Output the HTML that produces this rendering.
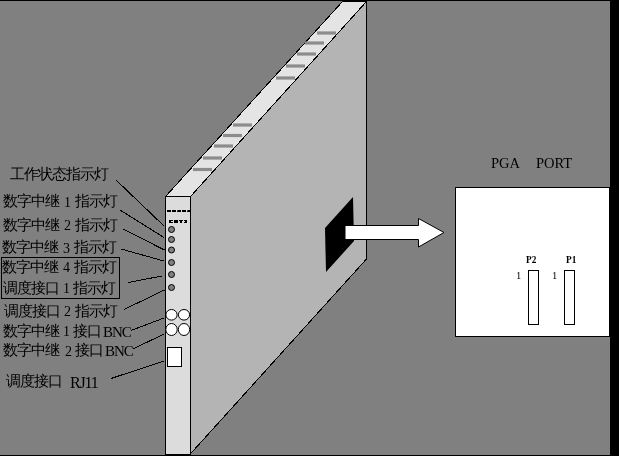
<!DOCTYPE html>
<html><head><meta charset="utf-8">
<style>
html,body{margin:0;padding:0;width:619px;height:456px;overflow:hidden;background:#808080}
svg{position:absolute;left:0;top:0}
.c,.l,.s{position:absolute;will-change:transform;font-family:"Liberation Serif",serif;color:#000;white-space:nowrap;line-height:16px}
.c{font-size:15px;letter-spacing:-1px}
.l{font-size:14px;letter-spacing:-1px}
.s{font-size:14px}
.r{position:absolute;will-change:transform;font-family:"Liberation Serif",serif;color:#000;white-space:nowrap;line-height:16px;font-size:16px;letter-spacing:-1.2px}
.b{position:absolute;will-change:transform;font-family:"Liberation Serif",serif;color:#000;white-space:nowrap;line-height:16px;font-size:15px;letter-spacing:-1px}
</style></head><body>
<svg id="c" width="619" height="456" viewBox="0 0 619 456">
<rect x="0" y="0" width="619" height="456" fill="#808080"/>
<!-- side face -->
<polygon shape-rendering="crispEdges" points="190.5,196.5 366.5,1.5 366.5,259 190.5,453.8" fill="#b4b4b4" stroke="#000" stroke-width="1"/>
<!-- top face -->
<polygon shape-rendering="crispEdges" points="165.5,196.5 342.5,1.5 366.5,1.5 190.5,196.5" fill="#e4e4e4" stroke="#000" stroke-width="1"/>
<!-- slots -->
<defs><filter id="bl" x="-20%" y="-200%" width="140%" height="500%"><feGaussianBlur stdDeviation="0.75"/></filter></defs>
<g stroke="#8c8c8c" stroke-width="3.2" fill="none" filter="url(#bl)">
<line x1="317" y1="33" x2="336" y2="33"/>
<line x1="305" y1="43" x2="324" y2="43"/>
<line x1="297" y1="54" x2="316" y2="54"/>
<line x1="286" y1="66" x2="305" y2="66"/>
<line x1="276" y1="78" x2="295" y2="78"/>
<line x1="233" y1="125" x2="252" y2="125"/>
<line x1="223" y1="135.5" x2="242" y2="135.5"/>
<line x1="214" y1="146" x2="233" y2="146"/>
<line x1="203" y1="158" x2="222" y2="158"/>
<line x1="193" y1="169.5" x2="212" y2="169.5"/>
</g>
<!-- front face -->
<rect x="165.5" y="196.5" width="25" height="258" fill="#dcdcdc" stroke="#000" stroke-width="1"/>
<!-- dashes -->
<g fill="#000">
<rect x="167" y="210" width="4" height="2"/>
<rect x="172" y="210" width="4" height="2"/>
<polygon points="177.5,210 181,210 181,212 177,212"/>
<rect x="182" y="210" width="4" height="2"/>
<polygon points="187.5,210 190,210 190,212 187,212"/>
<path d="M169,220h4v1h-2v1h2v1h-4z"/>
<path d="M174,220h4v3h-4z"/>
<path d="M179,220h4v1h-1v2h-2v-2h-1z"/>
<path d="M184,220h3v3h-3v-1h1v-1h-1z"/>
</g>
<!-- LEDs -->
<g fill="#808080" stroke="#000" stroke-width="1">
<circle cx="171.5" cy="229.5" r="3.0"/>
<circle cx="171.5" cy="239.5" r="3.0"/>
<circle cx="171.5" cy="250" r="3.0"/>
<circle cx="171.5" cy="262.5" r="3.0"/>
<circle cx="171.5" cy="274.5" r="3.0"/>
<circle cx="171.5" cy="287.5" r="3.0"/>
</g>
<!-- BNC -->
<g fill="#fff" stroke="#000" stroke-width="1">
<ellipse cx="171.5" cy="314.8" rx="5.6" ry="5.3"/>
<ellipse cx="184" cy="314.8" rx="5.6" ry="5.3"/>
<ellipse cx="171.5" cy="329.5" rx="5.7" ry="6"/>
<ellipse cx="184" cy="329.5" rx="5.7" ry="6"/>
<rect x="167.5" y="347.5" width="14" height="19"/>
</g>
<!-- connector -->
<polygon points="325,228 353,197 354,241 326,272" fill="#000"/>
<!-- arrow -->
<polygon points="345,225.5 418.5,225.5 418.5,218.5 444,232.5 418.5,247 418.5,239.5 345,239.5" fill="#fff" stroke="#000" stroke-width="1"/>
<!-- leader lines -->
<g stroke="#000" stroke-width="1" fill="none" shape-rendering="crispEdges">
<line x1="116" y1="180" x2="164" y2="226"/>
<line x1="120" y1="210" x2="164" y2="237.5"/>
<line x1="123" y1="229" x2="164.5" y2="250"/>
<line x1="121" y1="249" x2="164" y2="261"/>
<line x1="128" y1="282.5" x2="162" y2="276"/>
<line x1="124" y1="309.5" x2="164.5" y2="290"/>
<line x1="131" y1="330.5" x2="164" y2="318"/>
<line x1="133" y1="349" x2="164" y2="334"/>
<line x1="111" y1="378.5" x2="164" y2="361"/>
</g>
<!-- label box -->
<rect x="1.5" y="257.5" width="118" height="41" fill="none" stroke="#000" stroke-width="1"/>
<!-- PGA box -->
<rect x="455.5" y="187.5" width="154" height="149" fill="#fff" stroke="#000" stroke-width="1"/>
<rect x="528.5" y="270.5" width="10" height="54" fill="#fff" stroke="#000" stroke-width="1"/>
<rect x="564.5" y="270.5" width="10" height="54" fill="#fff" stroke="#000" stroke-width="1"/>
<!-- borders -->
<rect x="0" y="0" width="619" height="1" fill="#000"/>
<rect x="610" y="0" width="9" height="456" fill="#000"/>
<rect x="0" y="455" width="619" height="1" fill="#000"/>
</svg>
<div class="c" style="left:10px;top:166px;">工作状态指示灯</div>
<div class="c" style="left:3px;top:193px;">数字中继</div>
<div class="l" style="left:64px;top:195px;">1</div>
<div class="c" style="left:75px;top:193px;">指示灯</div>
<div class="c" style="left:3px;top:217px;">数字中继</div>
<div class="l" style="left:64px;top:218px;">2</div>
<div class="c" style="left:75px;top:217px;">指示灯</div>
<div class="c" style="left:2px;top:239px;">数字中继</div>
<div class="l" style="left:63px;top:241px;">3</div>
<div class="c" style="left:74px;top:239px;">指示灯</div>
<div class="c" style="left:2px;top:259px;">数字中继</div>
<div class="l" style="left:63px;top:260px;">4</div>
<div class="c" style="left:74px;top:259px;">指示灯</div>
<div class="c" style="left:3px;top:280px;">调度接口</div>
<div class="l" style="left:63px;top:281px;">1</div>
<div class="c" style="left:73px;top:280px;">指示灯</div>
<div class="c" style="left:4px;top:303px;">调度接口</div>
<div class="l" style="left:64px;top:304px;">2</div>
<div class="c" style="left:75px;top:303px;">指示灯</div>
<div class="c" style="left:3px;top:323px;">数字中继</div>
<div class="l" style="left:63px;top:324px;">1</div>
<div class="c" style="left:73px;top:323px;">接口</div>
<div class="b" style="left:103px;top:324px;">BNC</div>
<div class="c" style="left:3px;top:342px;">数字中继</div>
<div class="l" style="left:64.5px;top:344px;">2</div>
<div class="c" style="left:75px;top:342px;">接口</div>
<div class="b" style="left:105px;top:343px;">BNC</div>
<div class="c" style="left:6px;top:373px;">调度接口</div>
<div class="r" style="left:70px;top:375px;">RJ11</div>
<div class="s" style="left:491px;top:155px;font-size:14.5px">PGA</div>
<div class="s" style="left:536px;top:155px;font-size:14.5px">PORT</div>
<div class="s" style="left:526px;top:252px;font-size:9.3px;font-weight:bold">P2</div>
<div class="s" style="left:566px;top:252px;font-size:9.3px;font-weight:bold">P1</div>
<div class="s" style="left:516px;top:268px;font-size:10.5px">1</div>
<div class="s" style="left:552px;top:268px;font-size:10.5px">1</div>
</body></html>
